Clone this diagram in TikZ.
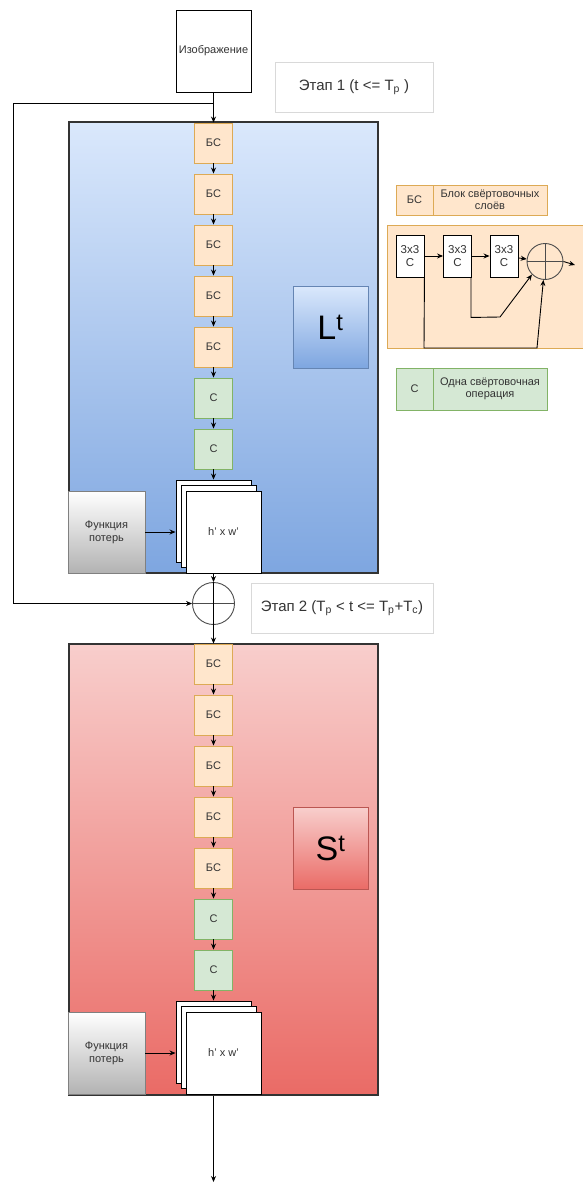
\documentclass[tikz,border=0pt]{standalone}
\usepackage{fontspec}
\setmainfont{Liberation Sans}
\usepackage{tikz}
\usetikzlibrary{
    arrows.meta,
    calc
}

\definecolor{bsfill}{HTML}{FFE6CC}
\definecolor{bsline}{HTML}{DDAA55}
\definecolor{cfill}{HTML}{D5E8D4}
\definecolor{cline}{HTML}{82B366}
\definecolor{bluetop}{HTML}{DAE8FC}
\definecolor{bluebot}{HTML}{7EA6E0}
\definecolor{redtop}{HTML}{F8CECC}
\definecolor{redbot}{HTML}{EA6B66}
\definecolor{txt}{HTML}{333333}

\begin{document}
\begin{tikzpicture}[x=1pt,y=-1pt,
    >={Stealth[length=6pt,width=5pt]},
    line width=0.9pt,
    bsbox/.style={draw=bsline,fill=bsfill,minimum width=38pt,minimum height=40pt,
        inner sep=0pt,text=txt,font=\fontsize{11}{12}\selectfont},
    cbox/.style={bsbox,draw=cline,fill=cfill},
    sheet/.style={draw=black,fill=white,minimum width=75pt,minimum height=82pt,
        inner sep=0pt,text=txt,font=\fontsize{11}{12}\selectfont},
    lossbox/.style={draw=gray,top color=white,bottom color=black!30,
        minimum width=77pt,minimum height=82pt,inner sep=0pt,align=center,
        text=txt,font=\fontsize{11}{13}\selectfont},
    netbox/.style={draw=black!80,line width=2pt,minimum width=309pt,minimum height=451pt},
    stagebox/.style={draw=black!15,fill=white,minimum height=50pt,inner sep=0pt,
        text=txt,font=\fontsize{15}{17}\selectfont},
    tagbox/.style={minimum width=75pt,minimum height=82pt,inner sep=0pt,
        font=\fontsize{34}{36}\selectfont},
    keybox/.style={minimum height=30pt,inner sep=0pt,align=center,text=txt,
        font=\fontsize{11}{12.5}\selectfont},
    convbox/.style={draw=black,fill=white,minimum width=28pt,minimum height=42pt,
        inner sep=0pt,align=center,text=txt,font=\fontsize{11.5}{13}\selectfont}
]

\fill[white] (0,0) rectangle (583,1185);
\useasboundingbox (0,0) rectangle (583,1185);

% Input
\node[draw=black,minimum width=75pt,minimum height=82pt,inner sep=0pt,
    text=txt,font=\fontsize{11}{12}\selectfont] (img) at (213.5,51) {Изображение};
\node[stagebox,minimum width=158pt] (stage1) at (354,87) {Этап 1 (t <= T\textsubscript{p} )};

% Stage 1 network
\node[netbox,top color=bluetop,bottom color=bluebot] (lnet) at (223.5,347.5) {};
\node[tagbox,draw=bluebot!80!black,top color=bluetop,bottom color=bluebot] (ltag) at (330.5,327) {L\textsuperscript{t}};

\foreach \i in {1,...,5}
  \node[bsbox] (lb\i) at (213.5,{92+51*\i}) {БС};
\foreach \i in {6,7}
  \node[cbox] (lb\i) at (213.5,{92+51*\i}) {С};
\foreach \i in {1,...,6}
  {
    \pgfmathtruncatemacro\j{\i+1}
    \draw[->] (lb\i) -- (lb\j);
  }

\node[sheet] (ls1) at (213.5,521) {};
\node[sheet] (ls2) at (218.5,526) {};
\node[sheet] (ls3) at (223.5,532) {h' x w'};
\draw[->] (lb7) -- (ls1);

\node[lossbox] (lloss) at (106.5,532) {Функция\\потерь};
\draw[->] (lloss) -- (lloss -| ls1.west);

\draw[->] (img) -- (lb1);

% Sum and loop
\node[draw=black!70,circle,minimum size=42pt,inner sep=0pt] (sum) at (213.5,603.5) {};
\draw[black!70] (sum.west) -- (sum.east);
\draw (sum.north) -- (sum.south);
\draw[->] (lnet.south -| sum) -- (sum.north);

\coordinate (tap) at (213.5,103);
\coordinate (lt) at (13,103);
\draw[->] (tap) -- (lt) |- (sum.west);

\node[stagebox,minimum width=182pt] (stage2) at (342,608.5)
  {Этап 2 (T\textsubscript{p} < t <= T\textsubscript{p}+T\textsubscript{c})};

% Stage 2 network
\node[netbox,top color=redtop,bottom color=redbot] (rnet) at (223.5,869) {};
\node[tagbox,draw=redbot!80!black,top color=redtop,bottom color=redbot] (rtag) at (330.5,848.5) {S\textsuperscript{t}};

\foreach \i in {1,...,5}
  \node[bsbox] (rb\i) at (213.5,{613+51*\i}) {БС};
\foreach \i in {6,7}
  \node[cbox] (rb\i) at (213.5,{613+51*\i}) {С};
\foreach \i in {1,...,6}
  {
    \pgfmathtruncatemacro\j{\i+1}
    \draw[->] (rb\i) -- (rb\j);
  }

\node[sheet] (rs1) at (213.5,1042) {};
\node[sheet] (rs2) at (218.5,1047) {};
\node[sheet] (rs3) at (223.5,1053) {h' x w'};
\draw[->] (rb7) -- (rs1);

\node[lossbox] (rloss) at (106.5,1053) {Функция\\потерь};
\draw[->] (rloss) -- (rloss -| rs1.west);

\draw[->] (sum.south) -- (rb1);

% Output
\coordinate (out) at (213.5,1182);
\draw[->] (rnet.south -| sum) -- (out);

% Legend
\node[keybox,draw=bsline,fill=bsfill,minimum width=37pt] (keybs) at (414.5,200) {БС};
\node[keybox,draw=bsline,fill=bsfill,minimum width=114pt] (keybst) at (490,200)
  {Блок свёртовочных\\слоёв};

\node[draw=bsline,fill=bsfill,minimum width=196pt,minimum height=123pt] (resblk) at (485,286.5) {};
\node[convbox] (k1) at (410,256) {3x3\\С};
\node[convbox] (k2) at (457.5,256) {3x3\\С};
\node[convbox] (k3) at (504,256) {3x3\\С};
\node[draw=black!70,circle,minimum size=36pt,inner sep=0pt] (ksum) at (545,261.5) {};
\draw[black!70] (ksum.north) -- (ksum.south);
\draw[black!70] (ksum.west) -- (ksum.east);
\draw[->] (k1) -- (k2);
\draw[->] (k2) -- (k3);
\draw[->] (k3) -- (ksum);
\coordinate (kout) at (575,265);
\draw[->] (ksum.east) -- (kout);
\draw[->] ($(k2.south east)+(-1,0)$) -- ++(0,40) -- (500,317) -- (ksum.225);
\draw[->] (k1.south east) -- (424,348) -- (537,348) -- (ksum.265);

\node[keybox,draw=cline,fill=cfill,minimum width=37pt,minimum height=42pt] (keyc) at (414.5,389) {С};
\node[keybox,draw=cline,fill=cfill,minimum width=114pt,minimum height=42pt] (keyct) at (490,389)
  {Одна свёртовочная\\операция};

\end{tikzpicture}
\end{document}
